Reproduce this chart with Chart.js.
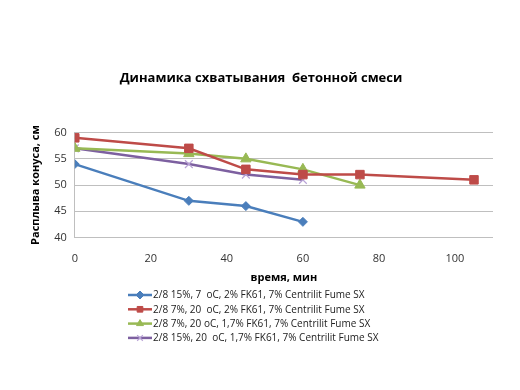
<!DOCTYPE html>
<html>
<head>
<meta charset="utf-8">
<script src="https://cdn.jsdelivr.net/npm/chart.js@4"></script>
<style>
  html, body { margin: 0; padding: 0; background: #fff; }
  #wrap { width: 520px; height: 390px; }
</style>
</head>
<body>
<div id="wrap"><canvas id="chart" width="520" height="390"></canvas></div>
<script>
const seriesNames = [
  '2/8 15%, 7  oC, 2% FK61, 7% Centrilit Fume SX',
  '2/8 7%, 20  oC, 2% FK61, 7% Centrilit Fume SX',
  '2/8 7%, 20 oC, 1,7% FK61, 7% Centrilit Fume SX',
  '2/8 15%, 20  oC, 1,7% FK61, 7% Centrilit Fume SX'
];
const blueTimes = [0, 30, 45, 60];
const blueValues = [54, 47, 46, 43];
const redTimes = [0, 30, 45, 60, 75, 105];
const redValues = [59, 57, 53, 52, 52, 51];
const greenTimes = [0, 30, 45, 60, 75];
const greenValues = [57, 56, 55, 53, 50];
const purpleTimes = [0, 30, 45, 60];
const purpleValues = [57, 54, 52, 51];

const xTicks = [0, 20, 40, 60, 80, 100];
const yTicks = [40, 45, 50, 55, 60];

const font = "'Open Sans', 'Noto Sans', sans-serif";

function pts(xs, ys) {
  return xs.map((x, i) => ({ x: x, y: ys[i] }));
}

function makeSet(name, xs, ys, color, style, radius, pointColor) {
  return {
    label: name,
    data: pts(xs, ys),
    borderColor: color,
    backgroundColor: pointColor || color,
    pointBorderColor: pointColor || color,
    pointBackgroundColor: pointColor || color,
    borderWidth: 2.5,
    pointStyle: style,
    pointRadius: radius,
    pointBorderWidth: style === 'crossRot' ? 1.2 : 1,
    tension: 0
  };
}

const datasets = [
  makeSet(seriesNames[0], blueTimes, blueValues, '#4a7ebb', 'rectRot', 4.5),
  makeSet(seriesNames[1], redTimes, redValues, '#be4b48', 'rect', 6),
  makeSet(seriesNames[2], greenTimes, greenValues, '#98b954', 'triangle', 6),
  makeSet(seriesNames[3], purpleTimes, purpleValues, '#7d60a0', 'crossRot', 5.5, '#b9a3d6')
];

// legend drawn as a left-aligned column like the original
const sideLegend = {
  id: 'sideLegend',
  afterDraw(chart) {
    const ctx = chart.ctx;
    const x0 = 128, y0 = 295, step = 14.3;
    ctx.save();
    ctx.font = '10px ' + font;
    ctx.textBaseline = 'middle';
    chart.data.datasets.forEach((ds, i) => {
      const y = y0 + i * step;
      ctx.strokeStyle = ds.borderColor;
      ctx.lineWidth = 2.5;
      ctx.beginPath();
      ctx.moveTo(x0, y);
      ctx.lineTo(x0 + 24, y);
      ctx.stroke();
      ctx.fillStyle = ds.pointBackgroundColor;
      ctx.strokeStyle = ds.pointBorderColor;
      ctx.lineWidth = ds.pointBorderWidth;
      Chart.helpers.drawPoint(ctx, {
        pointStyle: ds.pointStyle,
        radius: Math.min(ds.pointRadius, 4),
        rotation: 0,
        borderWidth: ds.pointBorderWidth
      }, x0 + 12, y);
      ctx.fillStyle = '#222';
      ctx.fillText(ds.label, x0 + 25, y + 0.5);
    });
    ctx.restore();
  }
};

new Chart(document.getElementById('chart').getContext('2d'), {
  type: 'line',
  data: { datasets: datasets },
  plugins: [sideLegend],
  options: {
    responsive: false,
    animation: false,
    layout: { padding: { left: 29, right: 27, top: 0, bottom: 106 } },
    plugins: {
      legend: { display: false },
      tooltip: { enabled: false },
      title: {
        display: true,
        text: 'Динамика схватывания  бетонной смеси',
        color: '#000',
        font: { family: font, size: 13, weight: 'bold' },
        padding: { top: 70, bottom: 47 }
      }
    },
    scales: {
      x: {
        type: 'linear',
        min: 0,
        max: 110,
        afterBuildTicks: axis => { axis.ticks = xTicks.map(v => ({ value: v })); },
        grid: { display: false, drawTicks: false },
        border: { display: false },
        ticks: { color: '#333', font: { family: font, size: 11 }, padding: 15 },
        title: {
          display: true,
          text: 'время, мин',
          color: '#000',
          font: { family: font, size: 11, weight: 'bold' },
          padding: { top: -10, bottom: 0 }
        }
      },
      y: {
        min: 40,
        max: 60,
        afterBuildTicks: axis => { axis.ticks = yTicks.map(v => ({ value: v })); },
        grid: { color: '#bfbfbf', lineWidth: 1, drawTicks: false },
        border: { display: true, color: '#bfbfbf' },
        ticks: { color: '#333', font: { family: font, size: 11 }, padding: 8 },
        title: {
          display: true,
          text: 'Расплыва конуса, см',
          color: '#000',
          font: { family: font, size: 11, weight: 'bold' },
          padding: { top: 0, bottom: 4 }
        }
      }
    }
  }
});
</script>
</body>
</html>
